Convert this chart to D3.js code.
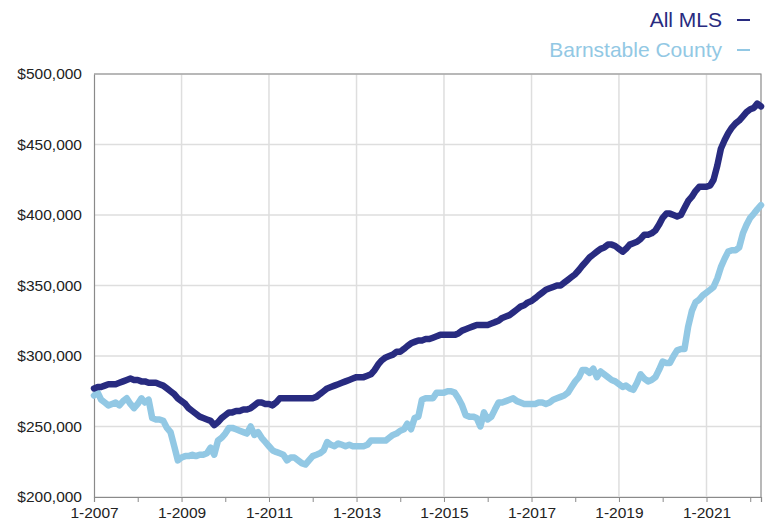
<!DOCTYPE html>
<html>
<head>
<meta charset="utf-8">
<script src="https://cdn.jsdelivr.net/npm/d3@7"></script>
<style>
  body { margin: 0; background: #fff; }
  svg { font-family: "Liberation Sans", Arial, sans-serif; }
</style>
</head>
<body>
<svg id="chart" width="772" height="527"></svg>
<script>
// Median price, monthly, in $1,000 (Jan 2007 – Apr 2022)
const allMls = [
  277, 278, 278, 279, 280, 280, 280, 281, 282, 283, 284, 283,
  283, 282, 282, 281, 281, 281, 280, 279, 277, 275, 273, 270,
  268, 266, 263, 261, 259, 257, 256, 255, 254, 251, 253, 256,
  258, 260, 260, 261, 261, 262, 262, 263, 265, 267, 267, 266,
  266, 265, 267, 270, 270, 270, 270, 270, 270, 270, 270, 270,
  270, 271, 273, 275, 277, 278, 279, 280, 281, 282, 283, 284,
  285, 285, 285, 286, 287, 290, 294, 297, 299, 300, 301, 303,
  303, 305, 307, 309, 310, 311, 311, 312, 312, 313, 314, 315,
  315, 315, 315, 315, 316, 318, 319, 320, 321, 322, 322, 322,
  322, 323, 324, 325, 327, 328, 329, 331, 333, 335, 336, 338,
  339, 341, 343, 345, 347, 348, 349, 350, 350, 352, 354, 356,
  358, 361, 364, 367, 370, 372, 374, 376, 377, 379, 379, 378,
  376, 374, 376, 379, 380, 381, 383, 386, 386, 387, 389, 393,
  398, 401, 401, 400, 399, 400, 405, 410, 413, 417, 420, 420,
  420, 421, 425, 435, 447, 453, 458, 462, 465, 467, 470, 473,
  475, 476, 479, 477
];

const barnstable = [
  272, 274, 269, 267, 265, 266, 267, 265, 268, 270, 266, 263,
  266, 270, 267, 269, 256, 255, 255, 254, 249, 246, 236, 226,
  228, 229, 229, 230, 229, 230, 230, 231, 235, 230, 240, 242,
  245, 249, 249, 248, 247, 246, 245, 250, 244, 246, 242, 239,
  236, 233, 232, 231, 230, 226, 228, 228, 226, 224, 223, 226,
  229, 230, 231, 233, 239, 237, 236, 238, 237, 236, 237, 236,
  236, 236, 236, 237, 240, 240, 240, 240, 240, 242, 244, 245,
  247, 248, 252, 248, 256, 257, 269, 270, 270, 270, 274, 274,
  274, 275, 275, 274, 270, 265, 258, 257, 257, 256, 250, 260,
  255, 257, 262, 267, 267, 268, 269, 270, 268, 267, 266, 266,
  266, 266, 267, 267, 266, 267, 269, 270, 271, 272, 274, 278,
  282, 285, 290, 290, 288, 291, 285, 289, 287, 285, 283, 282,
  280, 278, 279, 277, 276, 281, 287, 284, 282, 283, 285, 290,
  296, 295, 295, 300, 304, 305, 305, 321, 332, 338, 340, 343,
  345, 347, 349, 355, 363, 369, 374, 375, 375, 377, 387, 393,
  398, 401, 404, 407
];

const yTicks = [200, 250, 300, 350, 400, 450, 500];
const xTickYears = [2007, 2009, 2011, 2013, 2015, 2017, 2019, 2021];
const seriesNames = ["All MLS", "Barnstable County"];
const seriesColors = ["#282b80", "#92c8e4"];

const svg = d3.select("#chart");
const margin = { left: 94, right: 11, top: 74, bottom: 30 };
const W = 772, H = 527;

const start = new Date(2007, 0, 1);
const months = d3.range(allMls.length).map(i => new Date(2007, i, 1));

const x = d3.scaleTime()
  .domain([start, months[months.length - 1]])
  .range([margin.left, W - margin.right]);
const y = d3.scaleLinear()
  .domain([200, 500])
  .range([H - margin.bottom, margin.top]);

// gridlines
svg.append("g")
  .selectAll("line.h")
  .data(yTicks)
  .join("line")
  .attr("x1", margin.left).attr("x2", W - margin.right)
  .attr("y1", d => y(d)).attr("y2", d => y(d))
  .attr("stroke", "#dedede").attr("stroke-width", 1.5);

svg.append("g")
  .selectAll("line.v")
  .data(xTickYears.slice(1))
  .join("line")
  .attr("x1", d => x(new Date(d, 0, 1))).attr("x2", d => x(new Date(d, 0, 1)))
  .attr("y1", margin.top).attr("y2", H - margin.bottom)
  .attr("stroke", "#dedede").attr("stroke-width", 1.5);

// frame (top + right)
svg.append("path")
  .attr("d", `M${margin.left},${margin.top}H${W - margin.right}V${H - margin.bottom}`)
  .attr("fill", "none").attr("stroke", "#8a8a8a").attr("stroke-width", 1.2);

// y axis
const yAxis = svg.append("g")
  .attr("transform", `translate(${margin.left},0)`)
  .call(d3.axisLeft(y).tickValues(yTicks).tickSize(0).tickPadding(12)
    .tickFormat(d => "$" + d3.format(",")(d * 1000)));
yAxis.select(".domain").attr("stroke", "#8a8a8a").attr("stroke-width", 1.2);
yAxis.selectAll("text").attr("font-size", 15.5).attr("fill", "#222");

// x axis
const allYears = d3.range(2007, 2023).map(yr => new Date(yr, 0, 1));
const xAxis = svg.append("g")
  .attr("transform", `translate(0,${H - margin.bottom})`)
  .call(d3.axisBottom(x).tickValues(allYears).tickSize(5).tickPadding(5)
    .tickFormat(d => xTickYears.includes(d.getFullYear()) ? "1-" + d.getFullYear() : ""));
xAxis.select(".domain").attr("stroke", "#8a8a8a").attr("stroke-width", 1.2);
xAxis.selectAll(".tick line").attr("stroke", "#8a8a8a");
xAxis.selectAll("text").attr("font-size", 15.5).attr("fill", "#222");

// lines
const line = d3.line()
  .x((d, i) => x(months[i]))
  .y(d => y(d))
  .curve(d3.curveLinear);

[barnstable, allMls].forEach((s, k) => {
  svg.append("path")
    .datum(s)
    .attr("d", line)
    .attr("fill", "none")
    .attr("stroke", seriesColors[1 - k])
    .attr("stroke-width", 6.5)
    .attr("stroke-linejoin", "round")
    .attr("stroke-linecap", "round");
});

// legend
const legend = svg.append("g");
seriesNames.forEach((name, i) => {
  const yy = 27 + i * 30;
  legend.append("text")
    .attr("x", 722).attr("y", yy)
    .attr("text-anchor", "end")
    .attr("font-size", 21)
    .attr("fill", seriesColors[i])
    .text(name);
  legend.append("line")
    .attr("x1", 737).attr("x2", 750)
    .attr("y1", yy - 7).attr("y2", yy - 7)
    .attr("stroke", seriesColors[i]).attr("stroke-width", 2);
});
</script>
</body>
</html>
